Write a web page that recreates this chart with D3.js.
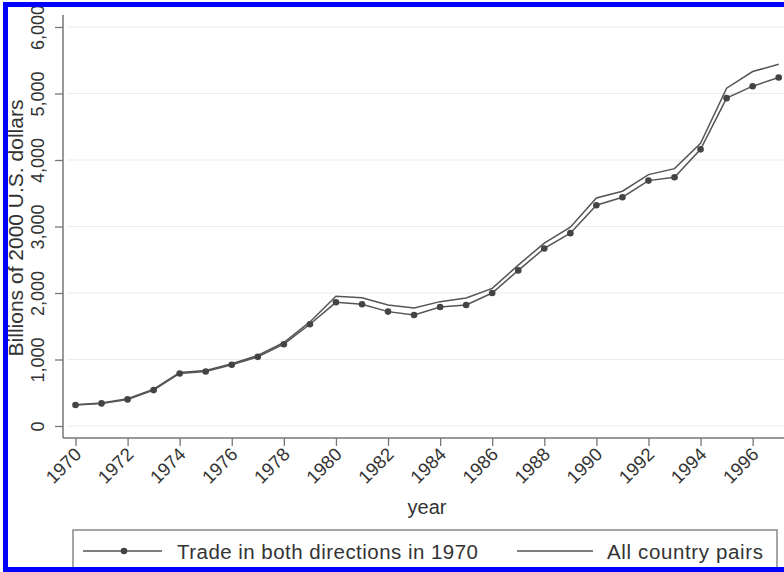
<!DOCTYPE html>
<html>
<head>
<meta charset="utf-8">
<script src="https://cdn.jsdelivr.net/npm/d3@7"></script>
<style>
  html, body { margin: 0; padding: 0; background: #fff; }
  svg { display: block; font-family: "Liberation Sans", Arial, sans-serif; }
</style>
</head>
<body>
<svg id="chart" width="784" height="572"></svg>
<script>
const years = [1970,1971,1972,1973,1974,1975,1976,1977,1978,1979,1980,1981,1982,1983,1984,1985,1986,1987,1988,1989,1990,1991,1992,1993,1994,1995,1996,1997];
const trade1970 = [315,340,400,540,790,820,920,1040,1230,1530,1860,1830,1720,1670,1790,1820,2000,2340,2670,2900,3320,3440,3690,3740,4160,4930,5110,5240];
const allPairs = [320,345,410,555,805,835,935,1060,1255,1565,1950,1930,1820,1775,1870,1925,2070,2420,2750,2990,3430,3530,3780,3870,4250,5080,5330,5440];
const yTicks = [0,1000,2000,3000,4000,5000,6000];
const xTicks = [1970,1972,1974,1976,1978,1980,1982,1984,1986,1988,1990,1992,1994,1996];
const seriesNames = ["Trade in both directions in 1970", "All country pairs"];

const svg = d3.select("#chart");
const x = d3.scaleLinear().domain([1970, 1997]).range([75.5, 778.7]);
const y = d3.scaleLinear().domain([0, 6000]).range([426, 27]);
const axisX0 = 63, axisY0 = 438;
const fmt = d3.format(",");

// grid
svg.append("g").selectAll("line").data(yTicks).join("line")
  .attr("x1", axisX0 + 4).attr("x2", 784)
  .attr("y1", d => y(d)).attr("y2", d => y(d))
  .attr("stroke", "#ebebeb").attr("stroke-width", 1.2);

// y axis
const gy = svg.append("g").attr("transform", `translate(${axisX0},0)`)
  .call(d3.axisLeft(y).tickValues(yTicks).tickSize(8).tickFormat(fmt));
gy.select(".domain").remove();
gy.selectAll(".tick line").attr("stroke", "#777").attr("stroke-width", 1.3);
gy.selectAll(".tick text").remove();
gy.selectAll(".tick").append("text")
  .attr("transform", "translate(-19,0) rotate(-90)")
  .attr("text-anchor", "middle")
  .attr("fill", "#333").attr("font-size", 18)
  .text(d => fmt(d));
svg.append("line").attr("x1", axisX0).attr("x2", axisX0).attr("y1", 15).attr("y2", axisY0)
  .attr("stroke", "#777").attr("stroke-width", 1.5);

// x axis
const gx = svg.append("g").attr("transform", `translate(0,${axisY0})`)
  .call(d3.axisBottom(x).tickValues(xTicks).tickSize(8).tickFormat(d3.format("d")));
gx.select(".domain").remove();
gx.selectAll(".tick line").attr("stroke", "#777").attr("stroke-width", 1.3);
gx.selectAll(".tick text").remove();
gx.selectAll(".tick").append("text")
  .attr("transform", "translate(2,13) rotate(-45)")
  .attr("text-anchor", "end").attr("dy", "0.35em")
  .attr("fill", "#333").attr("font-size", 18.5)
  .text(d => d);
svg.append("line").attr("x1", axisX0).attr("x2", 784).attr("y1", axisY0).attr("y2", axisY0)
  .attr("stroke", "#777").attr("stroke-width", 1.5);

// titles
svg.append("text").attr("x", 427).attr("y", 514).attr("text-anchor", "middle")
  .attr("fill", "#333").attr("font-size", 20).text("year");
svg.append("text").attr("transform", "translate(23,228) rotate(-90)").attr("text-anchor", "middle")
  .attr("fill", "#333").attr("font-size", 21).text("Billions of 2000 U.S. dollars");

// lines
const line = d3.line().x((d, i) => x(years[i])).y(d => y(d));
svg.append("path").datum(allPairs).attr("d", line)
  .attr("fill", "none").attr("stroke", "#555").attr("stroke-width", 1.5);
svg.append("path").datum(trade1970).attr("d", line)
  .attr("fill", "none").attr("stroke", "#555").attr("stroke-width", 1.5);
svg.append("g").selectAll("circle").data(trade1970).join("circle")
  .attr("cx", (d, i) => x(years[i])).attr("cy", d => y(d)).attr("r", 3.3)
  .attr("fill", "#444");

// legend
const lg = svg.append("g");
lg.append("rect").attr("x", 73).attr("y", 530).attr("width", 704).attr("height", 60)
  .attr("fill", "#fff").attr("stroke", "#888").attr("stroke-width", 1.5);
lg.append("line").attr("x1", 83).attr("x2", 162).attr("y1", 551).attr("y2", 551)
  .attr("stroke", "#555").attr("stroke-width", 1.5);
lg.append("circle").attr("cx", 124).attr("cy", 551).attr("r", 3.3).attr("fill", "#444");
lg.append("text").attr("x", 177).attr("y", 559).attr("font-size", 20.5).attr("fill", "#333")
  .attr("textLength", 301).text(seriesNames[0]);
lg.append("line").attr("x1", 517).attr("x2", 593).attr("y1", 551).attr("y2", 551)
  .attr("stroke", "#555").attr("stroke-width", 1.5);
lg.append("text").attr("x", 607).attr("y", 559).attr("font-size", 20.5).attr("fill", "#333")
  .attr("textLength", 156).text(seriesNames[1]);

// blue frame
const frame = svg.append("g").attr("stroke", "#0000ff").attr("stroke-width", 5);
frame.append("line").attr("x1", 3).attr("x2", 784).attr("y1", 4.5).attr("y2", 4.5);
frame.append("line").attr("x1", 5.5).attr("x2", 5.5).attr("y1", 2).attr("y2", 572);
frame.append("line").attr("x1", 3).attr("x2", 784).attr("y1", 569.5).attr("y2", 569.5);
</script>
</body>
</html>
